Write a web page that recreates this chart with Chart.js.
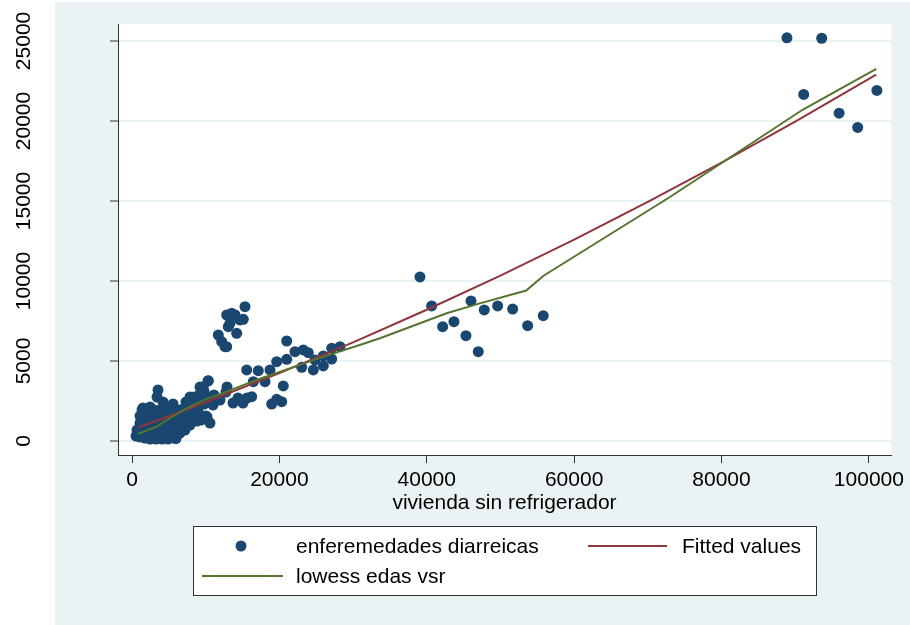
<!DOCTYPE html>
<html>
<head>
<meta charset="utf-8">
<script src="https://cdn.jsdelivr.net/npm/chart.js@4"></script>
<style>
  html, body { margin: 0; padding: 0; background: #fff; }
  #wrap { width: 910px; height: 625px; }
</style>
</head>
<body>
<div id="wrap"><canvas id="chart" width="910" height="625"></canvas></div>
<script>
// Scatter of diarrhoeal disease vs dwellings without fridge, with fit + lowess

const xTicks = [0, 20000, 40000, 60000, 80000, 100000];
const yTicks = [0, 5000, 10000, 15000, 20000, 25000];

const edaX = [
  543, 814, 1086, 1493, 1764, 2171, 2443, 2850, 3257, 3664, 4071, 4478, 4885, 5292, 5699,
  1221, 1764, 1357, 1764, 2443, 3121, 3800, 2036, 3393, 2443, 1493, 3528, 3393, 2443, 1493,
  3800, 4478, 4885, 5428, 5971, 6514, 7057, 7600, 8142, 8685, 9228, 9771, 10314, 9228, 7871, 7328,
  6514, 5971, 5157, 4478, 5835, 7193, 7871, 8685, 8821, 9364, 10178, 10585, 8278, 7600, 6786,
  12891, 13706, 14384, 15063, 15605, 11942, 10992, 11128, 12756, 4207, 4885, 5564, 6243, 5157, 678, 2714, 3800, 4342, 3121, 2171,
  15334, 12851, 13529, 13977, 13299, 13068, 14656, 15103, 14207, 11711, 12172, 12620, 12851,
  20993, 22119, 23245, 23924, 19636, 20993, 15565, 17139, 18727, 16460, 18048, 20532, 16243, 18957, 19636, 20315,
  23029, 24603, 25960, 27100, 27100, 28226, 25960, 24834, 10354, 9635,
  39077, 40665, 42157, 43691, 45319, 46988, 46000, 47802, 49620, 51655, 53691, 55807,
  88874, 93596, 91153, 95957, 98480, 101085,
  // dense part near the origin
  950, 1764, 2578, 3393, 4207, 5021, 5835, 6650,
  1086, 1900, 2714, 3528, 4342, 5157, 5971, 6786, 7600,
  1086, 1900, 2714, 3528, 5971, 6786, 7600, 8414, 9228, 10042,
  1357, 2171, 2986, 3800, 5699, 6514, 7328, 8142, 8957,
  7328, 8142, 8957, 9771,
  8414, 9228, 10042
];
const edaY = [
  313, 563, 250, 438, 188, 313, 125, 375, 125, 313, 125, 313, 125, 313, 188,
  813, 1063, 1438, 1938, 1938, 1813, 1813, 1500, 1313, 875, 875, 3188, 2750, 2125, 2063,
  813, 688, 1000, 1125, 1438, 1688, 1938, 2188, 2438, 2688, 2938, 3125, 3750, 3375, 2750, 2438,
  500, 150, 688, 1000, 813, 688, 1000, 1750, 1250, 1313, 1500, 1125, 1313, 1563, 1313,
  3375, 2375, 2688, 2375, 2688, 2563, 2250, 2875, 3063, 2438, 2063, 2313, 1938, 1625, 688, 563, 1313, 1563, 938, 1125,
  8394, 7875, 7981, 7875, 7356, 7144, 7563, 7606, 6731, 6625, 6206, 5894, 5894,
  6250, 5581, 5688, 5519, 4956, 5106, 4438, 4394, 4438, 3706, 3706, 3438, 2769, 2313, 2606, 2456,
  4606, 4438, 4688, 5125, 5794, 5894, 5313, 5063, 3769, 3375,
  10250, 8438, 7144, 7456, 6581, 5581, 8750, 8188, 8438, 8250, 7206, 7831,
  25194, 25169, 21656, 20488, 19594, 21906,
  688, 688, 688, 688, 688, 688, 688, 688,
  1125, 1125, 1125, 1125, 1125, 1125, 1125, 1125, 1125,
  1563, 1563, 1563, 1563, 1563, 1563, 1563, 1563, 1563, 1563,
  1938, 1938, 1938, 1938, 1938, 1938, 1938, 1938, 1938,
  2200, 2313, 2313, 2313,
  2750, 2750, 2750
];

// fitted values (curve)
const fitX = [900, 5000, 10000, 20000, 30000, 40000, 50000, 60000, 70000, 80000, 90000, 101000];
const fitY = [860, 1550, 2420, 4240, 6160, 8200, 10340, 12580, 14950, 17400, 19960, 22900];

// lowess line
const lowX = [800, 3300, 4700, 7400, 10000, 12500, 16900, 21400, 26000, 30900, 33650, 42700, 47200, 53500, 55800, 73000, 91000, 101000];
const lowY = [440, 890, 1310, 2040, 2620, 3020, 3810, 4540, 5270, 6000, 6420, 7980, 8600, 9400, 10310, 15250, 20700, 23250];

const NAVY = '#1a476f', MAROON = '#90353b', GREEN = '#55752f', BG = '#eaf2f3';
const FONT = { family: "'Liberation Sans', Arial, sans-serif", size: 21 };

const toPts = (xs, ys) => xs.map((x, i) => ({ x: x, y: ys[i] }));

const stataBg = {
  id: 'stataBg',
  beforeDraw(chart) {
    const ctx = chart.ctx, a = chart.chartArea;
    ctx.save();
    ctx.fillStyle = '#fff';
    ctx.fillRect(0, 0, chart.width, chart.height);
    ctx.fillStyle = BG;
    ctx.fillRect(55, 2, chart.width - 55, chart.height - 2);
    ctx.fillStyle = '#fff';
    ctx.fillRect(a.left, a.top, a.right - a.left, a.bottom - a.top);
    ctx.restore();
  }
};

const stataLegend = {
  id: 'stataLegend',
  afterDraw(chart) {
    const ctx = chart.ctx;
    const ds = chart.data.datasets;
    ctx.save();
    ctx.fillStyle = '#fff';
    ctx.fillRect(193, 526, 624, 70);
    ctx.strokeStyle = '#333';
    ctx.lineWidth = 1;
    ctx.strokeRect(193.5, 526.5, 623, 69);

    ctx.font = FONT.size + 'px ' + FONT.family;
    ctx.fillStyle = '#000';
    ctx.textBaseline = 'middle';
    ctx.textAlign = 'left';

    ctx.fillStyle = ds[0].backgroundColor;
    ctx.beginPath();
    ctx.arc(241, 546, 5.5, 0, Math.PI * 2);
    ctx.fill();
    ctx.fillStyle = '#000';
    ctx.fillText(ds[0].label, 296, 547);

    ctx.lineWidth = 2;
    ctx.strokeStyle = ds[1].borderColor;
    ctx.beginPath(); ctx.moveTo(588, 546); ctx.lineTo(667, 546); ctx.stroke();
    ctx.fillText(ds[1].label, 682, 547);

    ctx.strokeStyle = ds[2].borderColor;
    ctx.beginPath(); ctx.moveTo(202, 576); ctx.lineTo(283, 576); ctx.stroke();
    ctx.fillText(ds[2].label, 296, 577);
    ctx.restore();
  }
};

new Chart(document.getElementById('chart'), {
  type: 'scatter',
  data: {
    datasets: [
      { label: 'enferemedades diarreicas', data: toPts(edaX, edaY), backgroundColor: NAVY, borderWidth: 0, pointRadius: 5.5, order: 2 },
      { label: 'Fitted values', data: toPts(fitX, fitY), showLine: true, borderColor: MAROON, borderWidth: 2, pointRadius: 0, fill: false, order: 1 },
      { label: 'lowess edas vsr', data: toPts(lowX, lowY), showLine: true, borderColor: GREEN, borderWidth: 2, pointRadius: 0, fill: false, order: 0 }
    ]
  },
  options: {
    responsive: false,
    animation: false,
    events: [],
    layout: { padding: { left: 0, right: 19, top: 24, bottom: 109 } },
    plugins: { legend: { display: false }, tooltip: { enabled: false } },
    scales: {
      x: {
        type: 'linear', min: -1900, max: 103000,
        afterBuildTicks: s => { s.ticks = xTicks.map(v => ({ value: v })); },
        afterFit: s => { s.height = 61; s.paddingLeft = 0; s.paddingRight = 0; },
        grid: { drawOnChartArea: false, tickLength: 8, tickColor: '#333', tickWidth: 1 },
        border: { color: '#333', width: 1 },
        ticks: { font: FONT, color: '#000', padding: 5, maxRotation: 0, callback: v => String(v) },
        title: { display: true, text: 'vivienda sin refrigerador', font: FONT, color: '#000', padding: 0 }
      },
      y: {
        type: 'linear', min: -875, max: 26060,
        afterBuildTicks: s => { s.ticks = yTicks.map(v => ({ value: v })); },
        afterFit: s => { s.width = 118; s.paddingTop = 0; s.paddingBottom = 0; },
        grid: { color: BG, lineWidth: 2, tickLength: 8, tickColor: '#333', tickWidth: 1 },
        border: { color: '#333', width: 1 },
        ticks: { font: FONT, color: '#000', minRotation: 90, maxRotation: 90, crossAlign: 'center', padding: 57, callback: v => String(v) }
      }
    }
  },
  plugins: [stataBg, stataLegend]
});
</script>
</body>
</html>
